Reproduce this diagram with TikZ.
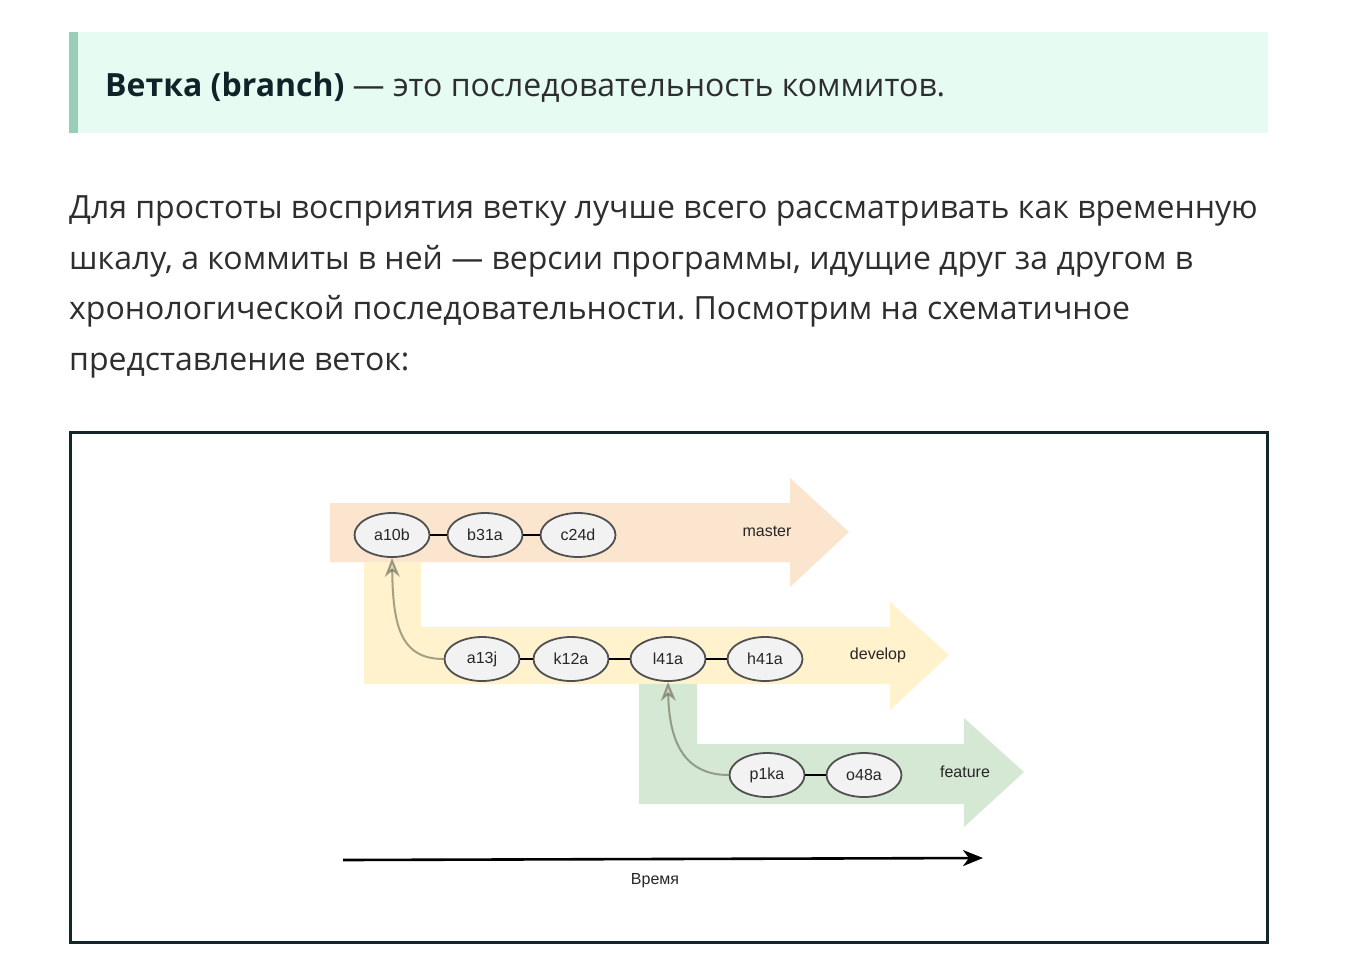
\documentclass[tikz,border=0pt]{standalone}
\usepackage{fontspec}
\setmainfont{Open Sans}
\newfontfamily\diag{Liberation Sans}
\usetikzlibrary{arrows.meta,shapes.geometric}
\frenchspacing
\definecolor{boxbg}{HTML}{E6FCF3}
\definecolor{boxbar}{HTML}{99CDB6}
\definecolor{headtxt}{HTML}{0E2428}
\definecolor{bodytxt}{HTML}{2E2E2E}
\definecolor{frame}{HTML}{13262A}
\definecolor{masterc}{HTML}{FCE5CE}
\definecolor{developc}{HTML}{FFF2CC}
\definecolor{featurec}{HTML}{D5E8D4}
\definecolor{ellfill}{HTML}{F2F2F2}
\definecolor{ellline}{HTML}{505050}
\definecolor{curvec}{HTML}{5E5E48}
\begin{document}
\begin{tikzpicture}[x=1pt,y=-1pt,
  para/.style={anchor=base west,inner sep=0pt,text=bodytxt,font=\fontsize{32}{38}\selectfont},
  commit/.style={ellipse,draw=ellline,line width=1.8pt,fill=ellfill,minimum width=75pt,minimum height=44pt,inner sep=0pt,font=\diag\fontsize{16}{18}\selectfont,text=black!85},
  blabel/.style={inner sep=0pt,font=\diag\fontsize{16}{18}\selectfont,text=black!85},
  link/.style={line width=2.6pt,black},
  merge/.style={draw=curvec,opacity=0.55,line width=2pt,-{Stealth[length=19pt,width=15pt,inset=6pt,fill=curvec!45]}},
]
\useasboundingbox (0,0) rectangle (1360,970);
\fill[white] (0,0) rectangle (1360,970);
% header box
\fill[boxbg] (69,32) rectangle (1268,133);
\fill[boxbar] (69,32) rectangle (78,133);
\node[para,text=headtxt] (head) at (105,96) {\textbf{Ветка (branch)} \textcolor{bodytxt}{— это последовательность коммитов.}};
% paragraph
\node[para] (l1) at (69,218) {Для простоты восприятия ветку лучше всего рассматривать как временную};
\node[para] (l2) at (69,269) {шкалу, а коммиты в ней — версии программы, идущие друг за другом в};
\node[para] (l3) at (69,319) {хронологической последовательности. Посмотрим на схематичное};
\node[para] (l4) at (69,370) {представление веток:};
% frame
\draw[frame,line width=3pt] (70.5,432.5) rectangle (1267.5,942.5);
% branch arrows
\fill[masterc] (330,503) -- (790,503) -- (790,478) -- (849,532) -- (790,587) -- (790,562) -- (330,562) -- cycle;
\fill[developc] (364,562) -- (421,562) -- (421,627) -- (890,627) -- (890,602) -- (949,655) -- (890,710) -- (890,684) -- (364,684) -- cycle;
\fill[featurec] (639,684) -- (697,684) -- (697,744) -- (964,744) -- (964,718) -- (1024,772) -- (964,827) -- (964,804) -- (639,804) -- cycle;
\node[blabel] (lm) at (767,531) {master};
\node[blabel] (ld) at (878,655) {develop};
\node[blabel] (lf) at (965,772) {feature};
% commits
\node[commit] (a10b) at (392,535) {a10b};
\node[commit] (b31a) at (485,535) {b31a};
\node[commit] (c24d) at (578,535) {c24d};
\node[commit] (a13j) at (482,659) {a13j};
\node[commit] (k12a) at (571,659) {k12a};
\node[commit] (l41a) at (668,659) {l41a};
\node[commit] (h41a) at (765,659) {h41a};
\node[commit] (p1ka) at (767,775) {p1ka};
\node[commit] (o48a) at (864,775) {o48a};
\draw[link] (a10b) -- (b31a);
\draw[link] (b31a) -- (c24d);
\draw[link] (a13j) -- (k12a);
\draw[link] (k12a) -- (l41a);
\draw[link] (l41a) -- (h41a);
\draw[link] (p1ka) -- (o48a);
\draw[merge] (a13j.west) .. controls (400,659) and (393,625) .. (a10b.south);
\draw[merge] (p1ka.west) .. controls (680,775) and (669,735) .. (l41a.south);
% time axis
\coordinate (t0) at (343,860);
\coordinate (t1) at (983,858);
\draw[line width=2.6pt,-{Stealth[length=20pt,width=16pt,inset=6pt]}] (t0) -- (t1);
\node[blabel] (time) at (655,881) {Время};
\end{tikzpicture}
\end{document}
